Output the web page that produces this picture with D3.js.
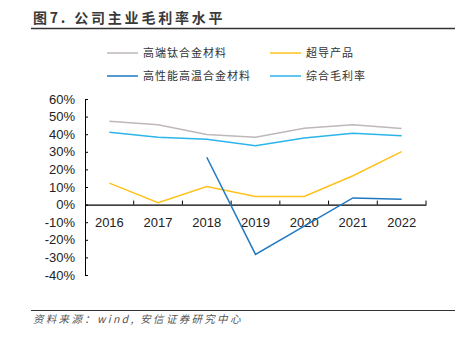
<!DOCTYPE html>
<html><head><meta charset="utf-8">
<script src="https://cdn.jsdelivr.net/npm/d3@7"></script>
<style>body{margin:0;background:#fff}svg{display:block}</style>
</head><body>
<svg id="c" width="469" height="337"></svg>
<script>
const years = ["2016","2017","2018","2019","2020","2021","2022"];
const titanium = [47.4, 45.4, 39.8, 38.3, 43.4, 45.4, 43.3];
const superconduct = [12.2, 1.1, 10.3, 4.6, 4.6, 16.4, 30.1];
const superalloy = [null, null, 26.9, -28.3, -12.2, 3.8, 3.1];
const overall = [41.1, 38.3, 37.1, 33.5, 37.9, 40.6, 39.1];
const yTicks = [60,50,40,30,20,10,0,-10,-20,-30,-40];

const series = [
  {name:"高端钛合金材料", values:titanium, color:"#bfb8b8"},
  {name:"超导产品", values:superconduct, color:"#ffc21a"},
  {name:"高性能高温合金材料", values:superalloy, color:"#1f78c1"},
  {name:"综合毛利率", values:overall, color:"#2bb5ea"}
];
const font = "'Noto Sans CJK SC', sans-serif";
const svg = d3.select("#c");

// title
svg.append("text").attr("x",33).attr("y",23).text("图7. 公司主业毛利率水平")
  .attr("font-family",font).attr("font-size",14).attr("font-weight","bold").attr("fill","#3a3a3a")
  .attr("letter-spacing",2.8);
svg.append("line").attr("x1",31).attr("x2",455).attr("y1",28.5).attr("y2",28.5)
  .attr("stroke","#333").attr("stroke-width",1.5);

// legend
const legPos = [[107,53],[270,53],[107,76],[270,76]];
series.forEach((s,i)=>{
  const [lx,ly]=legPos[i];
  svg.append("line").attr("x1",lx).attr("x2",lx+31).attr("y1",ly).attr("y2",ly)
    .attr("stroke",s.color).attr("stroke-width",1.5);
  svg.append("text").attr("x",lx+36).attr("y",ly+4).text(s.name)
    .attr("font-family",font).attr("font-size",11).attr("fill","#333").attr("letter-spacing",1);
});

const x = d3.scaleBand().domain(years).range([85,426]);
const y = d3.scaleLinear().domain([-40,60]).range([275,99]);

// y axis
const ya = svg.append("g").attr("transform","translate(85,0)")
  .call(d3.axisLeft(y).tickValues(yTicks).tickFormat(d=>d+"%").tickSizeInner(-3).tickSizeOuter(-3).tickPadding(10));
ya.select(".domain").attr("stroke","#000");
ya.selectAll(".tick line").attr("stroke","#000");
ya.selectAll("text").attr("font-family","'Liberation Sans', Arial, sans-serif").attr("font-size",13).attr("fill","#222");

// x axis at 0
const xa = svg.append("g").attr("transform",`translate(0,${y(0)})`)
  .call(d3.axisBottom(x).tickSize(0).tickPadding(13));
xa.select(".domain").attr("stroke","#000").attr("stroke-width",1.2);
xa.selectAll("text").attr("font-family","'Liberation Sans', Arial, sans-serif").attr("font-size",13).attr("fill","#222");
const bounds = years.map(d=>x(d)).concat([x.range()[1]]).slice(1);
xa.selectAll(".bt").data(bounds).enter().append("line")
  .attr("x1",d=>d).attr("x2",d=>d).attr("y1",0).attr("y2",-4).attr("stroke","#000");

// lines
const line = d3.line().defined(d=>d.v!==null).x(d=>x(d.k)+x.bandwidth()/2).y(d=>y(d.v));
series.forEach(s=>{
  svg.append("path").datum(years.map((k,i)=>({k,v:s.values[i]})))
    .attr("d",line).attr("fill","none").attr("stroke",s.color).attr("stroke-width",1.5);
});

// source
svg.append("line").attr("x1",31).attr("x2",455).attr("y1",310.5).attr("y2",310.5)
  .attr("stroke","#333").attr("stroke-width",1);
svg.append("text").attr("x",33).attr("y",323).text("资料来源：wind, 安信证券研究中心")
  .attr("font-family",font).attr("font-size",10.5).attr("font-style","italic").attr("fill","#555")
  .attr("letter-spacing",2.3);
</script>
</body></html>
